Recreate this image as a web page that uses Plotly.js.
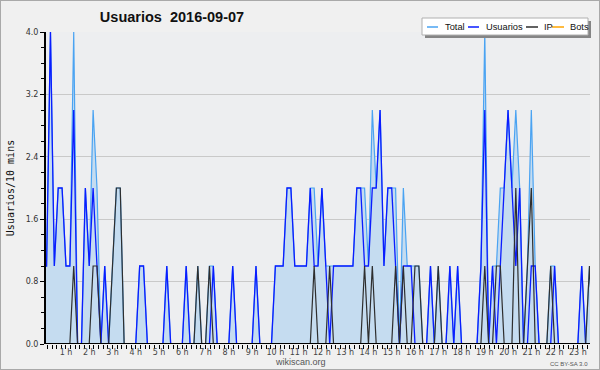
<!DOCTYPE html>
<html><head><meta charset="utf-8">
<script src="https://cdn.plot.ly/plotly-3.0.1.min.js"></script>
<style>
html,body{margin:0;padding:0;background:#ffffff;}
#chart{width:598px;height:368px;border:1px solid #a9a9a9;}
</style></head>
<body><div id="chart"></div>
<script>
// 10-minute slots, 00:00 .. 23:50
const total = [
 1,1,4,1,2,2,1,1,4,0,0,2,
 1,3,2,0,1,0,1,2,2,0,0,0,
 0,1,1,0,0,0,0,0,1,0,0,0,
 0,1,0,0,1,0,0,1,1,0,0,0,
 0,1,0,0,0,0,0,1,0,0,0,0,
 1,1,1,2,2,1,1,1,1,2,2,1,
 2,1,1,1,1,1,1,1,1,2,2,2,
 1,3,2,3,1,2,2,2,0,2,1,1,
 1,1,0,0,1,0,1,0,0,1,0,1,
 0,0,0,0,0,1,4,0,1,1,2,2,
 3,2,3,2,0,1,3,1,0,0,0,1,
 1,0,0,0,0,0,0,1,0,1,0,0];
const usuarios = [
 1,1,4,1,2,2,1,1,3,0,0,2,
 1,2,1,0,1,0,0,0,0,0,0,0,
 0,1,1,0,0,0,0,0,1,0,0,0,
 0,1,0,0,0,0,0,0,1,0,0,0,
 0,1,0,0,0,0,0,1,0,0,0,0,
 1,1,1,2,2,1,1,1,1,2,1,1,
 2,1,0,1,1,1,1,1,1,2,2,1,
 1,2,2,3,1,2,2,1,0,1,1,1,
 0,0,0,0,1,0,0,0,0,1,0,1,
 0,0,0,0,0,1,3,0,1,0,1,2,
 3,2,1,2,0,0,1,1,0,0,0,0,
 1,0,0,0,0,0,0,1,0,0,0,0];
const ip = [
 0,0,0,0,0,0,0,0,1,0,0,0,
 0,1,1,0,0,0,1,2,2,0,0,0,
 0,0,0,0,0,0,0,0,0,0,0,0,
 0,0,0,0,1,0,0,1,0,0,0,0,
 0,0,0,0,0,0,0,0,0,0,0,0,
 0,0,0,0,0,0,0,0,0,0,1,0,
 0,0,1,0,0,0,0,0,0,0,0,1,
 0,1,0,0,0,0,0,1,0,1,0,0,
 1,1,0,0,0,0,1,0,0,0,0,0,
 0,0,0,0,0,0,1,0,0,1,1,0,
 0,0,2,0,0,1,2,0,0,0,0,1,
 0,0,0,0,0,0,0,0,0,1,0,0];
const bots = [
 0,0,0,0,0,0,0,0,0,0,0,0,
 0,0,0,0,0,0,0,0,0,0,0,0,
 0,0,0,0,0,0,0,0,0,0,0,0,
 0,0,0,0,0,0,0,0,0,0,0,0,
 0,0,0,0,0,0,0,0,0,0,0,0,
 0,0,0,0,0,0,0,0,0,0,0,0,
 0,0,0,0,0,0,0,0,0,0,0,0,
 0,0,0,0,0,0,0,0,0,0,0,0,
 0,0,0,0,0,0,0,0,0,0,0,0,
 0,0,0,0,0,0,0,0,0,0,0,0,
 0,0,0,0,0,0,0,0,0,0,0,0,
 0,0,0,0,0,0,0,0,0,0,0,0];
const seriesNames = ['Total','Usuarios','IP','Bots'];
const hourTicks = [1,2,3,4,5,6,7,8,9,10,11,12,13,14,15,16,17,18,19,20,21,22,23];
const hourLabels = ['1 h','2 h','3 h','4 h','5 h','6 h','7 h','8 h','9 h','10 h','11 h','12 h',
  '13 h','14 h','15 h','16 h','17 h','18 h','19 h','20 h','21 h','22 h','23 h'];
const yTicks = [0,0.8,1.6,2.4,3.2,4.0];
const titleText = 'Usuarios\u00a0 2016-09-07';
const yTitle = 'Usuarios/10 mins';

const slotHours = total.map((_, i) => i / 6);
const colors = ['#4aa3f2', '#0a1cff', '#2e2e2e', '#ffa500'];

// layout helpers (plot area: 45..589 x, 31..343 y in div px)
const L = 45, R = 589, T = 31, B = 343;
const px = x => (x - L) / (R - L);
const py = y => (B - y) / (B - T);

const traces = [
  {x: slotHours, y: total, name: seriesNames[0], type: 'scatter', mode: 'lines',
   line: {color: colors[0], width: 1.2}, fill: 'tozeroy', fillcolor: '#c5dcf0'},
  {x: slotHours, y: usuarios, name: seriesNames[1], type: 'scatter', mode: 'lines',
   line: {color: colors[1], width: 1.3}},
  {x: slotHours, y: ip, name: seriesNames[2], type: 'scatter', mode: 'lines',
   line: {color: colors[2], width: 1.2}},
  {x: slotHours, y: bots, name: seriesNames[3], type: 'scatter', mode: 'lines',
   line: {color: colors[3], width: 1}}
];

// hand-built legend (compact, like the original)
const legItems = [
  {lx0: 426, lx1: 437, tx: 442},
  {lx0: 467, lx1: 478, tx: 483},
  {lx0: 525, lx1: 537, tx: 541},
  {lx0: 551, lx1: 563, tx: 567}
];
const legY = 26;
const shapes = [
  {type: 'rect', xref: 'paper', yref: 'paper', x0: px(424), x1: px(590), y0: py(37), y1: py(20),
   fillcolor: '#858585', line: {width: 0}, layer: 'above'},
  {type: 'rect', xref: 'paper', yref: 'paper', x0: px(421), x1: px(587), y0: py(34), y1: py(17),
   fillcolor: '#ffffff', line: {color: '#b0b0b0', width: 1}, layer: 'above'},
  {type: 'line', xref: 'paper', yref: 'y', x0: px(43), x1: 1, y0: 0, y1: 0,
   line: {color: '#000000', width: 2}, layer: 'above'}
];
const annotations = [];
legItems.forEach((it, k) => {
  shapes.push({type: 'line', xref: 'paper', yref: 'paper', x0: px(it.lx0), x1: px(it.lx1),
    y0: py(legY), y1: py(legY), line: {color: colors[k], width: 1.5}, layer: 'above'});
  annotations.push({xref: 'paper', yref: 'paper', x: px(it.tx), y: py(legY), xanchor: 'left',
    yanchor: 'middle', showarrow: false, text: seriesNames[k],
    font: {family: 'Liberation Sans, Arial, sans-serif', size: 9.3, color: '#111'}});
});
annotations.push({xref: 'paper', yref: 'paper', x: px(299), y: py(361), xanchor: 'center',
  yanchor: 'middle', showarrow: false, text: 'wikiscan.org',
  font: {family: 'Liberation Sans, Arial, sans-serif', size: 9, color: '#555'}});
annotations.push({xref: 'paper', yref: 'paper', x: px(589), y: py(363), xanchor: 'right',
  yanchor: 'middle', showarrow: false, text: 'CC BY-SA 3.0',
  font: {family: 'Liberation Sans, Arial, sans-serif', size: 6, color: '#555'}});

const layout = {
  width: 598, height: 368,
  margin: {l: L, r: 598 - R, t: T, b: 368 - B, pad: 0},
  paper_bgcolor: '#f0f0f0',
  plot_bgcolor: '#edeef0',
  showlegend: false,
  title: {text: titleText, x: 171 / 598, xref: 'container', xanchor: 'center',
    y: 1 - 16 / 368, yref: 'container', yanchor: 'middle',
    font: {family: 'Liberation Sans, Arial, sans-serif', size: 14.5, color: '#111', weight: 'bold'}},
  xaxis: {
    range: [0.1418, 23.522], autorange: false,
    tickvals: hourTicks, ticktext: hourLabels,
    ticks: 'outside', ticklen: 4, tickcolor: '#000', tickwidth: 1,
    minor: {dtick: 0.2, tick0: 0, ticks: 'outside', ticklen: 4, tickcolor: '#000', tickwidth: 1, showgrid: false},
    showline: false, showgrid: false, zeroline: false,
    ticklabelstandoff: -4,
    tickfont: {family: 'DejaVu Sans, sans-serif', size: 8, color: '#444'}
  },
  yaxis: {
    range: [0, 4], autorange: false,
    tickvals: yTicks, tickformat: '.1f',
    ticks: 'outside', ticklen: 4, tickcolor: '#000', tickwidth: 1,
    minor: {dtick: 0.2, tick0: 0, ticks: 'outside', ticklen: 3, tickcolor: '#000', tickwidth: 1, showgrid: false},
    showline: true, linecolor: '#000', linewidth: 2,
    showgrid: true, gridcolor: '#c9c9c9', gridwidth: 1, zeroline: false,
    tickfont: {family: 'DejaVu Sans, sans-serif', size: 8, color: '#333'},
    title: {text: yTitle, standoff: 9,
      font: {family: 'DejaVu Sans Mono, monospace', size: 10, color: '#111'}}
  },
  shapes: shapes,
  annotations: annotations
};

Plotly.newPlot('chart', traces, layout, {staticPlot: true, displayModeBar: false});
</script>
</body></html>
